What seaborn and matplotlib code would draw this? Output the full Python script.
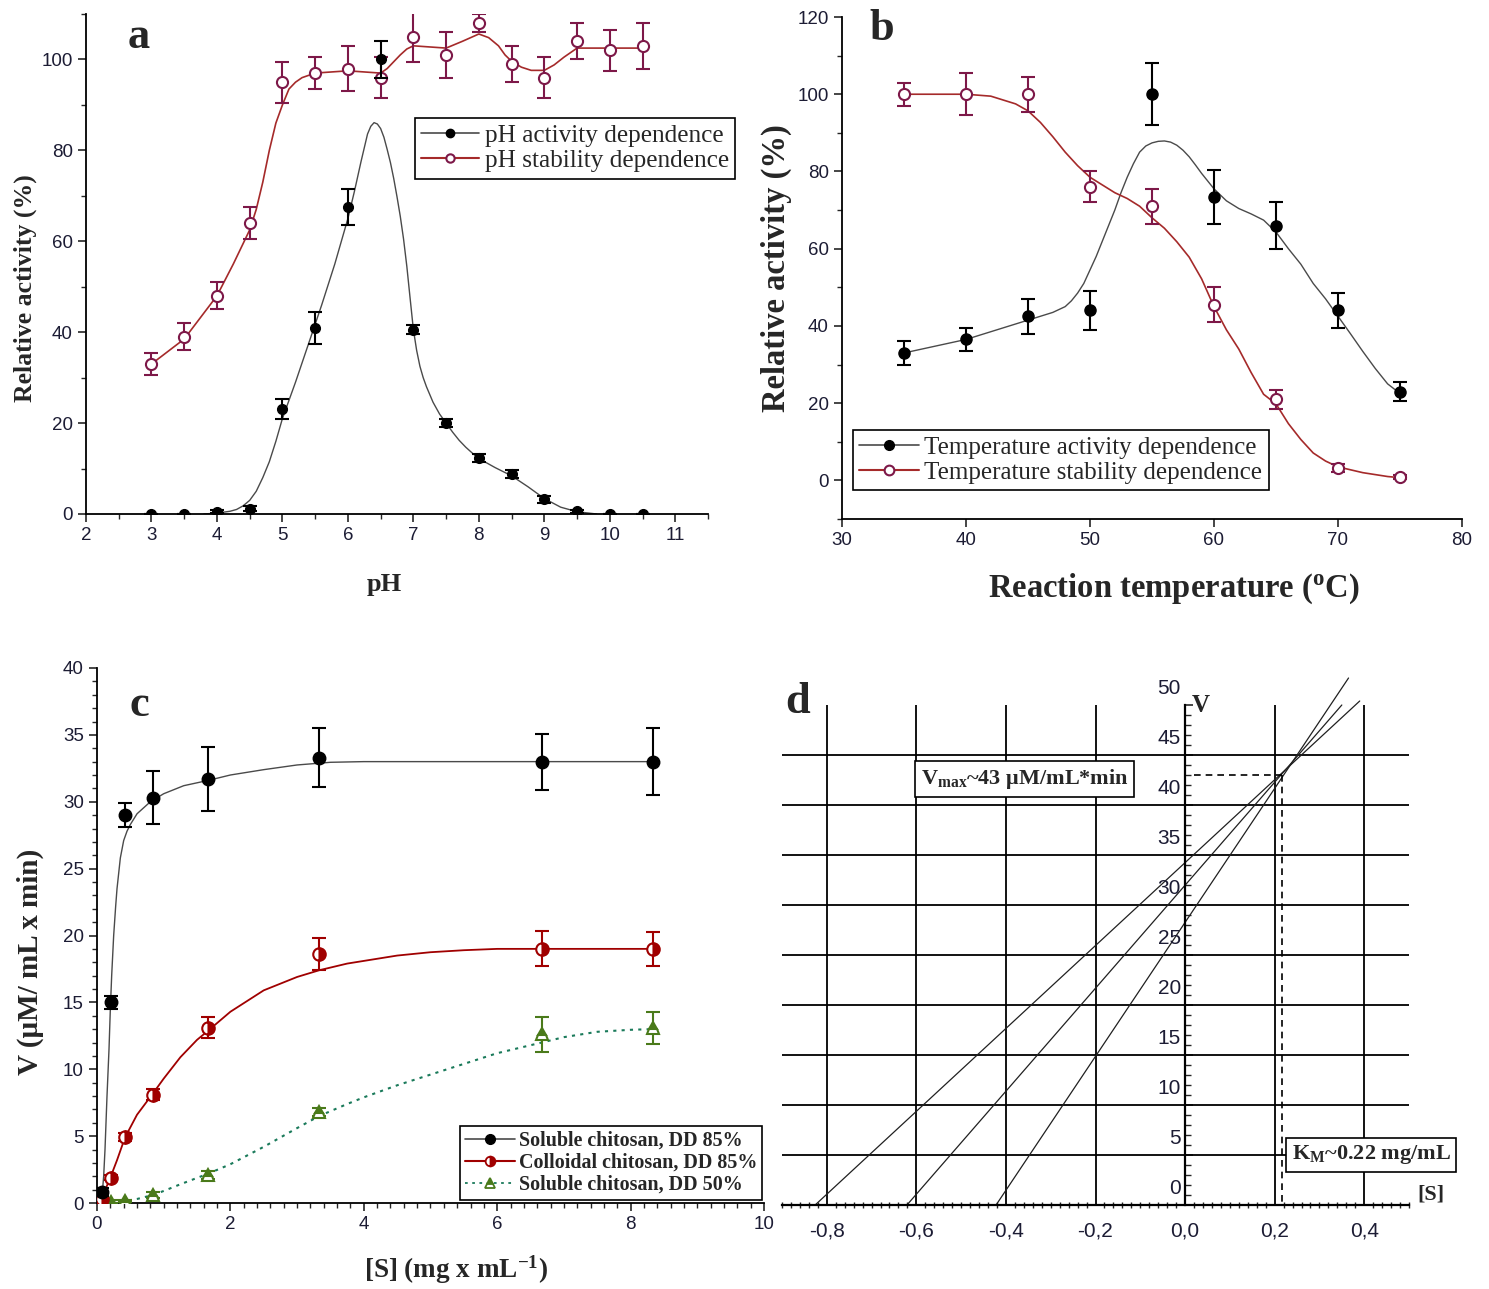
import numpy as np
import seaborn as sns
import matplotlib.pyplot as plt
from matplotlib.lines import Line2D
from matplotlib.ticker import MultipleLocator, FixedLocator

# ---------------- panel a: pH ----------------
ph = [3, 3.5, 4, 4.5, 5, 5.5, 6, 6.5, 7, 7.5, 8, 8.5, 9, 9.5, 10, 10.5]
ph_act = [0, 0, 0.5, 1.2, 23, 41, 67.5, 100, 40.5, 20, 12.3, 8.8, 3.2, 0.6, 0, 0]
ph_act_err = [0, 0, 0.3, 0.5, 2.2, 3.5, 4, 4, 1, 0.8, 0.8, 0.8, 0.8, 0.3, 0, 0]
ph_stab = [33, 39, 48, 64, 95, 97, 98, 96, 105, 101, 108, 99, 96, 104, 102, 103]
ph_stab_err = [2.5, 3, 3, 3.5, 4.5, 3.5, 5, 4.5, 5.5, 5, 2, 4, 4.5, 4, 4.5, 5]

# fitted curves
ph_act_fit_x = [3.8, 4.0, 4.2, 4.3, 4.4, 4.5, 4.6, 4.7, 4.8, 4.9, 5.0, 5.2, 5.4, 5.6, 5.8, 6.0,
                6.1, 6.2, 6.3, 6.35, 6.4, 6.45, 6.5, 6.55, 6.6, 6.65, 6.7, 6.75, 6.8, 6.85,
                6.9, 6.95, 7.0, 7.05, 7.1, 7.15, 7.2, 7.3, 7.4, 7.5, 7.6, 7.7, 7.8, 7.9, 8.0,
                8.25, 8.5, 8.75, 9.0, 9.25, 9.5, 9.8]
ph_act_fit_y = [0, 0.2, 0.6, 1.0, 1.8, 3, 5, 8, 11.5, 16, 21, 29, 37.5, 46, 55, 65,
                71, 77.5, 83.6, 85.3, 86.1, 85.8, 84.8, 82.9, 80.2, 77.3, 73.8, 69.8, 65.5,
                60.5, 54.5, 47.5, 40.6, 36, 32.5, 30, 28, 24.6, 22, 20, 18, 16.2, 14.7, 13.4,
                12.2, 10.2, 8.4, 6, 3.4, 1.5, 0.5, 0]
ph_stab_fit_x = [3.0, 3.5, 4.0, 4.25, 4.5, 4.6, 4.7, 4.8, 4.9, 5.0, 5.1, 5.2, 5.3, 5.5, 6.0,
                 6.5, 6.6, 6.7, 6.8, 6.9, 7.0, 7.5, 7.75, 8.0, 8.15, 8.3, 8.4, 8.5, 8.65, 8.8,
                 9.0, 9.15, 9.3, 9.5, 10.0, 10.5]
ph_stab_fit_y = [33, 38.5, 48, 55, 62.5, 67, 73, 80, 86, 90, 93.5, 95, 96, 97, 97.5,
                 97, 98, 99.5, 101, 102.3, 103, 102.5, 104, 105.6, 104.8, 103, 101, 99.6,
                 98.3, 97.6, 97.6, 98.8, 100.5, 102.5, 102.5, 102.5]

# ---------------- panel b: temperature ----------------
temp = [35, 40, 45, 50, 55, 60, 65, 70, 75]
t_act = [33, 36.5, 42.5, 44, 100, 73.5, 66, 44, 23]
t_act_err = [3, 3, 4.5, 5, 8, 7, 6, 4.5, 2.5]
t_stab = [100, 100, 100, 76, 71, 45.5, 21, 3.3, 0.8]
t_stab_err = [3, 5.5, 4.5, 4, 4.5, 4.5, 2.5, 1, 0.5]

t_act_fit_x = [35, 40, 45, 47, 48, 48.5, 49, 49.5, 50, 50.5, 51, 51.5, 52, 52.5, 53, 53.5, 54,
               54.5, 55, 55.5, 56, 56.5, 57, 57.5, 58, 58.5, 59, 60, 61, 62, 63, 64, 65, 66,
               67, 68, 69, 70, 71, 72, 73, 74, 75]
t_act_fit_y = [33, 36.5, 41.5, 43.5, 45, 46.5, 48.5, 51, 54.5, 58, 62, 66, 70, 74.5, 78.5, 82,
               85, 86.6, 87.4, 87.8, 87.9, 87.6, 86.8, 85.5, 83.8, 81.7, 79.5, 75.5, 72.4,
               70.4, 69, 67.4, 64.3, 60, 56, 51, 47, 42.5, 38, 33.4, 29, 25, 22.5]
t_stab_fit_x = [35, 40, 42, 44, 45, 46, 47, 48, 49, 50, 51, 52, 53, 54, 55, 56, 57, 58, 59, 60,
                61, 62, 63, 64, 65, 66, 67, 68, 69, 70, 72, 74, 75]
t_stab_fit_y = [100, 100, 99.5, 97.5, 95.7, 92.7, 89, 85, 81.5, 78.5, 76.5, 74.5, 73, 71, 68,
                65.3, 61.8, 57.8, 52.2, 45, 39, 34, 27.9, 22.3, 19.8, 14.7, 10.6, 7.1, 5, 3.5,
                2, 1, 0.7]

# ---------------- panel c: kinetics ----------------
conc = [0.08, 0.21, 0.42, 0.84, 1.67, 3.33, 6.67, 8.33]
v_sol85 = [0.8, 15, 29, 30.3, 31.7, 33.3, 33, 33]
v_sol85_err = [0.3, 0.5, 0.9, 2, 2.4, 2.2, 2.1, 2.5]
v_col85 = [0.3, 1.9, 4.9, 8.1, 13.1, 18.6, 19, 19]
v_col85_err = [0.1, 0.2, 0.3, 0.4, 0.8, 1.2, 1.3, 1.25]
v_sol50 = [0.2, 0.1, 0.15, 0.6, 2.1, 6.8, 12.6, 13.1]
v_sol50_err = [0.1, 0.1, 0.1, 0.2, 0.3, 0.3, 1.3, 1.2]

sol85_fit_x = [0.06, 0.08, 0.1, 0.12, 0.15, 0.18, 0.2, 0.22, 0.25, 0.28, 0.3, 0.35, 0.4, 0.45,
               0.5, 0.6, 0.8, 1.0, 1.3, 1.67, 2.0, 2.5, 3.0, 3.5, 4.0, 6.67, 8.33]
sol85_fit_y = [0, 0.8, 2, 4, 8, 11.5, 14.5, 17, 20, 22.2, 23.5, 25.8, 27.1, 27.8, 28.3, 29.1,
               30, 30.6, 31.2, 31.6, 32, 32.4, 32.75, 32.95, 33, 33, 33]
col85_fit_x = [0.08, 0.1, 0.2, 0.3, 0.42, 0.6, 0.84, 1.0, 1.25, 1.5, 1.67, 2.0, 2.5, 3.0, 3.33,
               3.75, 4.0, 4.5, 5.0, 5.5, 6.0, 6.67, 8.33]
col85_fit_y = [0.45, 0.7, 1.9, 3.2, 4.9, 6.6, 8.2, 9.3, 10.9, 12.2, 12.9, 14.3, 15.9, 16.9,
               17.4, 17.9, 18.1, 18.5, 18.75, 18.9, 19.0, 19.0, 19.0]
sol50_fit_x = [0.1, 0.42, 0.6, 0.84, 1.0, 1.25, 1.67, 2.0, 2.5, 3.0, 3.33, 3.75, 4.0, 4.5, 5.0,
               5.5, 6.0, 6.67, 7.0, 7.5, 8.0, 8.33]
sol50_fit_y = [0.2, 0.15, 0.3, 0.6, 0.9, 1.4, 2.2, 2.9, 4.2, 5.6, 6.5, 7.4, 7.9, 8.8, 9.6,
               10.4, 11.2, 12.0, 12.4, 12.8, 12.95, 13.0]

# ---------------- panel d: linearisation ----------------
lw_x_start = [-0.826, -0.621, -0.422]
lw_v_start = [0, 0, 0]
lw_x_end = [0.39, 0.35, 0.365]
lw_v_end = [50.4, 50.0, 52.7]
vmax = 43
km = 0.217
d_xticks = [-0.8, -0.6, -0.4, -0.2, 0.0, 0.2, 0.4]
d_xticklabels = ['-0,8', '-0,6', '-0,4', '-0,2', '0,0', '0,2', '0,4']
d_yticks = [0, 5, 10, 15, 20, 25, 30, 35, 40, 45, 50]
d_yminor = list(range(0, 51))
d_grid_x = [-0.8, -0.6, -0.4, -0.2, 0.2, 0.4]
d_grid_y = [5, 10, 15, 20, 25, 30, 35, 40, 45]

sns.set_style('ticks')
plt.rcParams['font.family'] = ['Liberation Serif', 'DejaVu Serif']
plt.rcParams['mathtext.fontset'] = 'custom'
plt.rcParams['mathtext.rm'] = 'Liberation Serif:bold'
plt.rcParams['mathtext.bf'] = 'Liberation Serif:bold'
plt.rcParams['mathtext.it'] = 'Liberation Serif:bold:italic'

TICK_FONT = 'Liberation Sans'
TICK_COLOR = '#1c1c34'
MAROON = '#7d1848'
RED_LINE = '#a52a2a'
DARK_RED = '#a00000'
GREEN = '#4a7a1a'
TEAL = '#1a7a5a'
FIT_GREY = '#4a4a4a'

W, H = 1489, 1289
fig = plt.figure(figsize=(W / 100, H / 100), dpi=100)


def style_axis(ax, size):
    for s in ['top', 'right']:
        ax.spines[s].set_visible(False)
    for s in ['left', 'bottom']:
        ax.spines[s].set_linewidth(1.3)
        ax.spines[s].set_color('black')
    ax.tick_params(which='major', direction='out', length=6, width=1.2, labelsize=size,
                   labelcolor=TICK_COLOR)
    ax.tick_params(which='minor', direction='out', length=3.5, width=1.0)
    for lab in ax.get_xticklabels() + ax.get_yticklabels():
        lab.set_fontfamily(TICK_FONT)
    ax.grid(False)


def legend_box(ax, handles, labels, **kw):
    leg = ax.legend(handles, labels, fancybox=False, framealpha=1, edgecolor='black',
                    borderaxespad=0, handletextpad=0.2, borderpad=0.25, labelspacing=0.1,
                    **kw)
    leg.get_frame().set_linewidth(1.2)
    return leg


# ---------- a ----------
ax = fig.add_axes([86 / W, 1 - 514 / H, 622 / W, 500 / H])
sns.lineplot(x=ph_act_fit_x, y=ph_act_fit_y, ax=ax, color=FIT_GREY, lw=1.0, sort=False)
sns.lineplot(x=ph_stab_fit_x, y=ph_stab_fit_y, ax=ax, color=RED_LINE, lw=1.2, sort=False)
ax.errorbar(ph, ph_act, yerr=ph_act_err, fmt='o', ms=7, color='black', mfc='black',
            ecolor='black', elinewidth=1.5, capsize=5, capthick=1.5, zorder=4)
ax.errorbar(ph, ph_stab, yerr=ph_stab_err, fmt='o', ms=8, color=MAROON, mfc='white',
            mec=MAROON, mew=1.5, ecolor=MAROON, elinewidth=1.5, capsize=5, capthick=1.5,
            zorder=3)
ax.set_xlim(2, 11.5)
ax.set_ylim(0, 110)
ax.xaxis.set_major_locator(MultipleLocator(1))
ax.xaxis.set_minor_locator(MultipleLocator(0.5))
ax.yaxis.set_major_locator(MultipleLocator(20))
ax.yaxis.set_minor_locator(MultipleLocator(10))
style_axis(ax, 13.5)
ax.set_xlabel('pH', fontsize=19, fontweight='bold')
ax.set_ylabel('Relative activity (%)', fontsize=18.5, fontweight='bold')
ax.xaxis.set_label_coords(0.479, -0.117)
ax.yaxis.set_label_coords(-0.078, 0.452)
ax.text(2.8, 105, 'a', fontsize=32, fontweight='bold', ha='center', va='center')
h = [Line2D([], [], color=FIT_GREY, lw=1.2, marker='o', ms=6, mfc='black', mec='black'),
     Line2D([], [], color=RED_LINE, lw=1.5, marker='o', ms=6, mfc='white', mec=MAROON, mew=1.5)]
legend_box(ax, h, ['pH activity dependence', 'pH stability dependence'], loc='upper left',
           bbox_to_anchor=(0.529, 0.792), prop={'family': 'Liberation Serif', 'size': 18.2},
           handlelength=2.3)

# ---------- b ----------
ax = fig.add_axes([842 / W, 1 - 519 / H, 620 / W, 502 / H])
sns.lineplot(x=t_act_fit_x, y=t_act_fit_y, ax=ax, color=FIT_GREY, lw=1.0, sort=False)
sns.lineplot(x=t_stab_fit_x, y=t_stab_fit_y, ax=ax, color=RED_LINE, lw=1.2, sort=False)
ax.errorbar(temp, t_act, yerr=t_act_err, fmt='o', ms=8, color='black', mfc='black',
            ecolor='black', elinewidth=1.5, capsize=5, capthick=1.5, zorder=4)
ax.errorbar(temp, t_stab, yerr=t_stab_err, fmt='o', ms=8, color=MAROON, mfc='white',
            mec=MAROON, mew=1.5, ecolor=MAROON, elinewidth=1.5, capsize=5, capthick=1.5,
            zorder=3)
ax.set_xlim(30, 80)
ax.set_ylim(-10, 120)
ax.xaxis.set_major_locator(MultipleLocator(10))
ax.yaxis.set_major_locator(MultipleLocator(20))
ax.yaxis.set_minor_locator(MultipleLocator(10))
style_axis(ax, 13.5)
ax.set_xlabel('Reaction temperature ($\\mathbf{^{o}}$C)', fontsize=23.5, fontweight='bold')
ax.set_ylabel('Relative activity (%)', fontsize=23.5, fontweight='bold')
ax.xaxis.set_label_coords(0.535, -0.105)
ax.yaxis.set_label_coords(-0.08, 0.5)
ax.text(33.2, 117, 'b', fontsize=32, fontweight='bold', ha='center', va='center')
h = [Line2D([], [], color=FIT_GREY, lw=1.2, marker='o', ms=7, mfc='black', mec='black'),
     Line2D([], [], color=RED_LINE, lw=1.5, marker='o', ms=7, mfc='white', mec=MAROON, mew=1.5)]
legend_box(ax, h, ['Temperature activity dependence', 'Temperature stability dependence'],
           loc='lower left', bbox_to_anchor=(0.018, 0.058),
           prop={'family': 'Liberation Serif', 'size': 18}, handlelength=2.4)

# ---------- c ----------
ax = fig.add_axes([97 / W, 1 - 1203 / H, 667 / W, 535 / H])
sns.lineplot(x=sol85_fit_x, y=sol85_fit_y, ax=ax, color=FIT_GREY, lw=1.0, sort=False)
sns.lineplot(x=col85_fit_x, y=col85_fit_y, ax=ax, color=DARK_RED, lw=1.3, sort=False)
sns.lineplot(x=sol50_fit_x, y=sol50_fit_y, ax=ax, color=TEAL, lw=1.5, sort=False,
             linestyle=(0, (1.5, 2.5)))
ax.errorbar(conc, v_sol85, yerr=v_sol85_err, fmt='o', ms=9, color='black', mfc='black',
            ecolor='black', elinewidth=1.5, capsize=5, capthick=1.5, zorder=5)
ax.errorbar(conc, v_col85, yerr=v_col85_err, fmt='o', ms=9, color=DARK_RED, mfc=DARK_RED,
            mfcalt='white', fillstyle='right', mec=DARK_RED, mew=1.5, ecolor=DARK_RED,
            elinewidth=1.5, capsize=5, capthick=1.5, zorder=4)
ax.errorbar(conc, v_sol50, yerr=v_sol50_err, fmt='^', ms=9, color=GREEN, mfc=GREEN,
            mfcalt='white', fillstyle='top', mec=GREEN, mew=1.5, ecolor=GREEN,
            elinewidth=1.5, capsize=5, capthick=1.5, zorder=3)
ax.set_xlim(0, 10)
ax.set_ylim(0, 40)
ax.xaxis.set_major_locator(MultipleLocator(2))
ax.xaxis.set_minor_locator(MultipleLocator(0.2))
ax.yaxis.set_major_locator(MultipleLocator(5))
ax.yaxis.set_minor_locator(MultipleLocator(1))
style_axis(ax, 13.5)
ax.set_xlabel('[S] (mg x mL$^{\\mathbf{-1}}$)', fontsize=19.5, fontweight='bold')
ax.set_ylabel('V (\u03bcM/ mL x min)', fontsize=21, fontweight='bold')
ax.xaxis.set_label_coords(0.538, -0.095)
ax.yaxis.set_label_coords(-0.079, 0.45)
ax.text(0.64, 37.2, 'c', fontsize=32, fontweight='bold', ha='center', va='center')
h = [Line2D([], [], color=FIT_GREY, lw=1.2, marker='o', ms=7, mfc='black', mec='black'),
     Line2D([], [], color=DARK_RED, lw=1.5, marker='o', ms=7, mfc=DARK_RED, mfcalt='white',
            fillstyle='right', mec=DARK_RED, mew=1.3),
     Line2D([], [], color=TEAL, lw=1.3, linestyle=(0, (1.5, 2.5)), marker='^', ms=7, mfc=GREEN,
            mfcalt='white', fillstyle='top', mec=GREEN, mew=1.3)]
legend_box(ax, h, ['Soluble chitosan, DD 85%', 'Colloidal chitosan, DD 85%',
                   'Soluble chitosan, DD 50%'],
           loc='lower right', bbox_to_anchor=(0.997, 0.006),
           prop={'family': 'Liberation Serif', 'size': 14.4, 'weight': 'bold'},
           handlelength=2.5)

# ---------- d ----------
ax = fig.add_axes([782 / W, 1 - 1210 / H, 627 / W, 540 / H])
ax.set_xlim(-0.9, 0.5)
ax.set_ylim(-0.5, 53.5)
ax.hlines(d_grid_y, -0.9, 0.5, color='black', lw=1.3)
ax.vlines(d_grid_x, 0, 50, color='black', lw=1.3)
for xs, xe, vs, ve in zip(lw_x_start, lw_x_end, lw_v_start, lw_v_end):
    sns.lineplot(x=[xs, xe], y=[vs, ve], ax=ax, color='#202020', lw=0.9, clip_on=False)
ax.plot([0.02, km], [vmax, vmax], color='black', lw=1.2, ls=(0, (4, 3)))
ax.plot([km, km], [vmax, 0], color='black', lw=1.2, ls=(0, (4, 3)))
for s in ['top', 'right']:
    ax.spines[s].set_visible(False)
ax.spines['left'].set_position(('data', 0))
ax.spines['bottom'].set_position(('data', 0))
ax.spines['left'].set_bounds(0, 50)
ax.spines['bottom'].set_bounds(-0.9, 0.5)
for s in ['left', 'bottom']:
    ax.spines[s].set_linewidth(1.6)
    ax.spines[s].set_color('black')
ax.set_xticks(d_xticks)
ax.set_xticklabels(d_xticklabels, fontfamily=TICK_FONT, fontsize=15, color=TICK_COLOR)
ax.xaxis.set_minor_locator(MultipleLocator(0.02))
ax.set_yticks(d_yticks)
ax.set_yticklabels([])
ax.yaxis.set_minor_locator(FixedLocator(d_yminor))
ax.tick_params(axis='x', which='major', length=0, pad=12)
ax.tick_params(axis='x', which='minor', direction='inout', length=5, width=1)
ax.tick_params(axis='y', which='major', direction='in', length=6, width=1.2)
ax.tick_params(axis='y', which='minor', direction='in', length=4, width=1)
for v in d_yticks:
    ax.annotate(str(v), xy=(0, v), xytext=(-3, 12), textcoords='offset points', ha='right',
                va='center', fontfamily=TICK_FONT, fontsize=15, color=TICK_COLOR)
ax.text(0.035, 50, 'V', fontsize=18, fontweight='bold', ha='center', va='center')
ax.text(0.548, 1.0, '[S]', fontsize=16, fontweight='bold', ha='center', va='center',
        clip_on=False)
ax.text(-0.866, 50.3, 'd', fontsize=32, fontweight='bold', ha='center', va='center')
box = dict(boxstyle='square,pad=0.25', fc='white', ec='black', lw=1.2)
ax.text(-0.358, 42.6, 'V$_{\\mathrm{max}}$~43 \u03bcM/mL*min', fontsize=16, fontweight='bold',
        ha='center', va='center', bbox=box)
ax.text(0.416, 5.0, 'K$_{\\mathrm{M}}$~0.22 mg/mL', fontsize=16, fontweight='bold',
        ha='center', va='center', bbox=box, clip_on=False)
ax.grid(False)

fig.savefig('out.png', dpi=100)
